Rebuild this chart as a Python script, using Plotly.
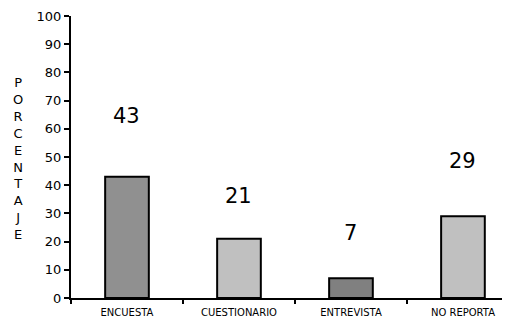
import plotly.graph_objects as go

categories = ["ENCUESTA", "CUESTIONARIO", "ENTREVISTA", "NO REPORTA"]
values = [43, 21, 7, 29]
y_ticks = [0, 10, 20, 30, 40, 50, 60, 70, 80, 90, 100]
y_title = "PORCENTAJE"

bar_colors = ["#909090", "#c0c0c0", "#808080", "#c0c0c0"]
label_shift_px = [61, 43, 45, 55]
FONT = "DejaVu Sans, Arial"

fig = go.Figure()
fig.add_trace(go.Bar(
    x=categories, y=values, width=0.39,
    marker=dict(color=bar_colors, line=dict(color="black", width=2)),
    hoverinfo="skip",
))

for i, (c, v) in enumerate(zip(categories, values)):
    fig.add_annotation(x=c, y=v, text=str(v), showarrow=False, yshift=label_shift_px[i],
                       font=dict(family=FONT, size=21, color="black"))

fig.add_annotation(xref="paper", yref="paper", x=-0.12, y=0.495, xanchor="center", yanchor="middle",
                   text="<br>".join(list(y_title)), showarrow=False,
                   font=dict(family=FONT, size=13, color="black"))

fig.update_layout(
    width=502, height=312,
    margin=dict(l=63, r=0, t=8, b=22),
    plot_bgcolor="white", paper_bgcolor="white",
    showlegend=False,
    xaxis=dict(range=[-0.5, 3.42], showline=True, linecolor="black", linewidth=2,
               ticks="outside", tickson="boundaries", ticklen=4, tickwidth=1.5, tickcolor="black",
               ticklabelstandoff=4,
               tickfont=dict(family=FONT, size=10, color="black"),
               showgrid=False, zeroline=False),
    yaxis=dict(range=[0, 100], tickvals=y_ticks, showline=True, linecolor="black", linewidth=2,
               ticks="outside", ticklen=5, tickwidth=1.5, tickcolor="black",
               tickfont=dict(family=FONT, size=13, color="black"),
               showgrid=False, zeroline=False),
)

fig.write_html("out.html")
